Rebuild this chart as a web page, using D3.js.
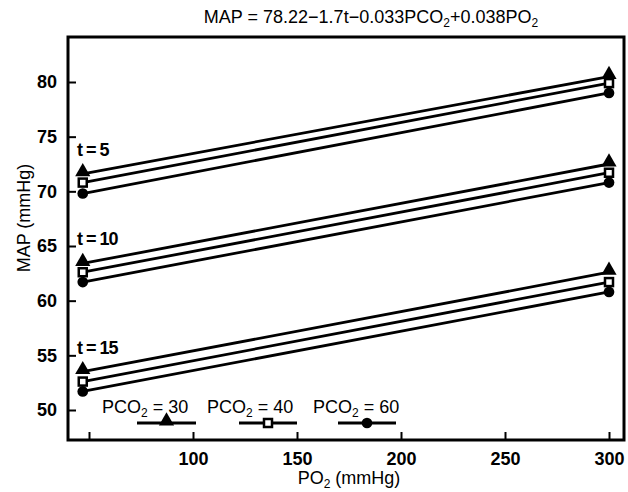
<!DOCTYPE html>
<html>
<head>
<meta charset="utf-8">
<script src="https://cdn.jsdelivr.net/npm/d3@7"></script>
<style>
  body { margin: 0; background: #fff; }
  text { font-family: "Liberation Sans", Arial, sans-serif; fill: #000; }
</style>
</head>
<body>
<div id="chart"></div>
<script>
const width = 628;
const height = 492;

// data
const po2 = [47, 300];
const tValues = [5, 10, 15];
const pco2Levels = [30, 40, 60];
const mapT5 = [[71.6, 80.5], [70.8, 79.9], [69.8, 79.0]];
const mapT10 = [[63.4, 72.5], [62.6, 71.7], [61.7, 70.8]];
const mapT15 = [[53.5, 62.6], [52.6, 61.7], [51.7, 60.8]];
const xTicks = [50, 100, 150, 200, 250, 300];
const xTickLabels = ["", "100", "150", "200", "250", "300"];
const yTicks = [50, 55, 60, 65, 70, 75, 80];

const groups = [mapT5, mapT10, mapT15];

const svg = d3
  .select("#chart")
  .append("svg")
  .attr("width", width)
  .attr("height", height);

const x = d3.scaleLinear().domain([50, 300]).range([89, 609]);
const y = d3.scaleLinear().domain([50, 80]).range([410, 82]);

// frame
svg
  .append("rect")
  .attr("x", 68)
  .attr("y", 37)
  .attr("width", 556)
  .attr("height", 403)
  .attr("fill", "none")
  .attr("stroke", "#000")
  .attr("stroke-width", 3);

// x axis ticks (inward)
const xAxis = svg
  .append("g")
  .attr("transform", "translate(0,440)")
  .call(
    d3.axisBottom(x)
      .tickValues(xTicks)
      .tickSizeInner(-8)
      .tickSizeOuter(0)
      .tickPadding(12)
      .tickFormat((d, i) => xTickLabels[i])
  );
xAxis.select(".domain").remove();
xAxis.selectAll("line").attr("stroke-width", 2);
xAxis
  .selectAll("text")
  .attr("font-size", 18)
  .attr("font-weight", "bold")
  .attr("font-family", "Liberation Sans, Arial, sans-serif");

// y axis ticks (inward)
const yAxis = svg
  .append("g")
  .attr("transform", "translate(68,0)")
  .call(
    d3.axisLeft(y)
      .tickValues(yTicks)
      .tickSizeInner(-8)
      .tickSizeOuter(0)
      .tickPadding(11)
  );
yAxis.select(".domain").remove();
yAxis.selectAll("line").attr("stroke-width", 2);
yAxis
  .selectAll("text")
  .attr("font-size", 18)
  .attr("font-weight", "bold")
  .attr("font-family", "Liberation Sans, Arial, sans-serif");

// title
const title = svg
  .append("text")
  .attr("x", 371)
  .attr("y", 23)
  .attr("text-anchor", "middle")
  .attr("font-size", 18);
title.append("tspan").text("MAP = 78.22\u22121.7t\u22120.033PCO");
title.append("tspan").attr("font-size", 12).attr("dy", 4).text("2");
title.append("tspan").attr("dy", -4).text("+0.038PO");
title.append("tspan").attr("font-size", 12).attr("dy", 4).text("2");

// axis titles
const xTitle = svg
  .append("text")
  .attr("x", 349)
  .attr("y", 484)
  .attr("text-anchor", "middle")
  .attr("font-size", 18);
xTitle.append("tspan").text("PO");
xTitle.append("tspan").attr("font-size", 12).attr("dy", 4).text("2");
xTitle.append("tspan").attr("dy", -4).text(" (mmHg)");

svg
  .append("text")
  .attr("transform", "translate(30,218) rotate(-90)")
  .attr("text-anchor", "middle")
  .attr("font-size", 18)
  .text("MAP (mmHg)");

// markers
const triangle = d3.symbol().type(d3.symbolTriangle).size(100);
const circle = d3.symbol().type(d3.symbolCircle).size(90);

function drawMarker(g, k, cx, cy) {
  if (k === 0) {
    g.append("path")
      .attr("d", triangle())
      .attr("transform", `translate(${cx},${cy - 2})`)
      .attr("fill", "#000");
  } else if (k === 1) {
    g.append("rect")
      .attr("x", cx - 4)
      .attr("y", cy - 4)
      .attr("width", 8)
      .attr("height", 8)
      .attr("fill", "#fff")
      .attr("stroke", "#000")
      .attr("stroke-width", 2.5);
  } else {
    g.append("path")
      .attr("d", circle())
      .attr("transform", `translate(${cx},${cy})`)
      .attr("fill", "#000");
  }
}

const line = d3
  .line()
  .x((d) => x(d[0]))
  .y((d) => y(d[1]));

groups.forEach((grp, gi) => {
  const g = svg.append("g");
  grp.forEach((vals, k) => {
    const pts = po2.map((p, i) => [p, vals[i]]);
    g.append("path")
      .attr("d", line(pts))
      .attr("fill", "none")
      .attr("stroke", "#000")
      .attr("stroke-width", 2.8);
  });
  // markers on top, squares last so the white shows
  [0, 2, 1].forEach((k) => {
    po2.forEach((p, i) => drawMarker(g, k, x(p), y(grp[k][i])));
  });

  // t label
  svg
    .append("text")
    .attr("x", 77)
    .attr("y", y(grp[0][0]) - 18)
    .attr("font-size", 18)
    .attr("font-weight", "bold")
    .attr("letter-spacing", -1)
    .text(`t = ${tValues[gi]}`);
});

// legend
const legendX = [102, 207, 313];
const legendSeg = [[137, 196], [239, 297], [338, 396]];
pco2Levels.forEach((p, k) => {
  const t = svg
    .append("text")
    .attr("x", legendX[k])
    .attr("y", 413)
    .attr("font-size", 18);
  t.append("tspan").text("PCO");
  t.append("tspan").attr("font-size", 12).attr("dy", 4).text("2");
  t.append("tspan").attr("dy", -4).text(` = ${p}`);

  svg
    .append("line")
    .attr("x1", legendSeg[k][0])
    .attr("x2", legendSeg[k][1])
    .attr("y1", 423)
    .attr("y2", 423)
    .attr("stroke", "#000")
    .attr("stroke-width", 3);
  drawMarker(svg, k, (legendSeg[k][0] + legendSeg[k][1]) / 2, 423);
});
</script>
</body>
</html>
